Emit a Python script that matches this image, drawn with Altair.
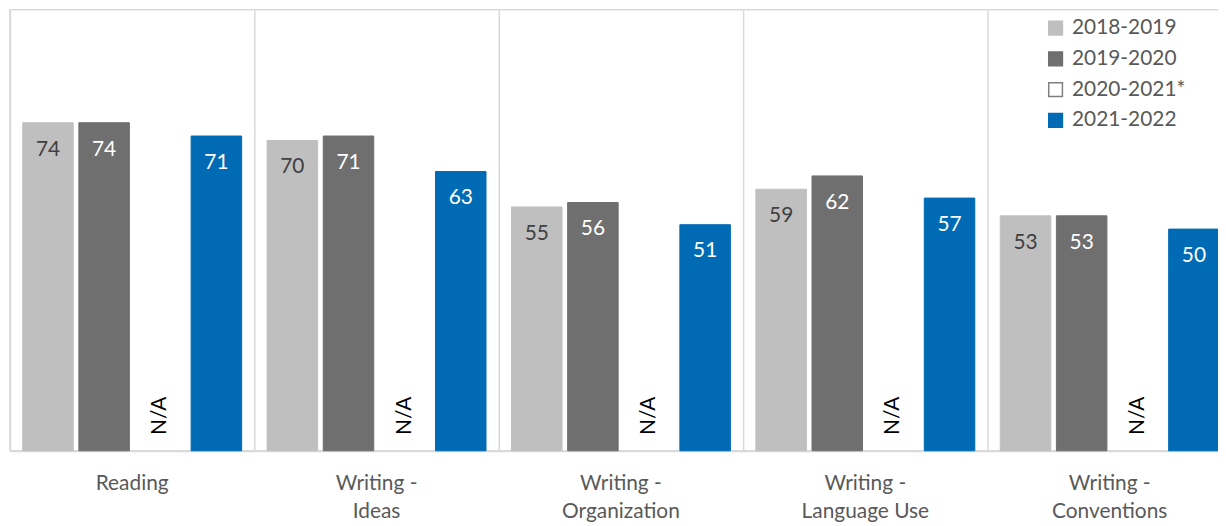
import altair as alt
import pandas as pd

categories = ["Reading", "Writing -\nIdeas", "Writing -\nOrganization",
              "Writing -\nLanguage Use", "Writing -\nConventions"]
years = ["2018-2019", "2019-2020", "2020-2021*", "2021-2022"]
v_2018 = [74, 70, 55, 59, 53]
v_2019 = [74, 71, 56, 62, 53]
v_2021 = [71, 63, 51, 57, 50]

rows = []
for i, c in enumerate(categories):
    rows.append({"cat": c, "year": years[0], "value": v_2018[i]})
    rows.append({"cat": c, "year": years[1], "value": v_2019[i]})
    rows.append({"cat": c, "year": years[3], "value": v_2021[i]})
df = pd.DataFrame(rows)
na_df = pd.DataFrame({"cat": categories, "year": [years[2]] * len(categories),
                      "value": [0] * len(categories), "txt": ["N/A"] * len(categories)})

FONT = "Lato"
fill_range = ["#bfbfbf", "#6f6f6f", "#ffffff", "#006bb5"]
stroke_range = ["#bfbfbf", "#6f6f6f", "#7f7f7f", "#006bb5"]
text_range = ["#404040", "#ffffff", "#000000", "#ffffff"]

x_enc = alt.X("cat:N", sort=categories, title=None,
              scale=alt.Scale(paddingInner=0, paddingOuter=0),
              axis=alt.Axis(labelExpr="split(datum.label, '\\n')", labelFontSize=21,
                            labelColor="#595959", labelFont=FONT, labelLineHeight=28,
                            labelPadding=22, ticks=False, tickSize=0, labelAngle=0,
                            grid=True, bandPosition=0, gridColor="#d9d9d9", gridWidth=1.5,
                            domainColor="#d9d9d9", domainWidth=2))
xo_enc = alt.XOffset("year:N", scale=alt.Scale(domain=years, paddingInner=0.1, paddingOuter=0.227))
y_scale = alt.Scale(domain=[0, 99.5], nice=False)

bars = alt.Chart(df).mark_bar(strokeWidth=1).encode(
    x=x_enc,
    xOffset=xo_enc,
    y=alt.Y("value:Q", scale=y_scale, axis=None),
    fill=alt.Fill("year:N", scale=alt.Scale(domain=years, range=fill_range),
                  legend=alt.Legend(title=None, orient="none", legendX=1042, legendY=8,
                                    symbolType="square", symbolSize=190, symbolStrokeWidth=1.5,
                                    labelFontSize=21, labelFont=FONT, labelColor="#595959",
                                    rowPadding=9, labelOffset=6)),
    stroke=alt.Stroke("year:N", scale=alt.Scale(domain=years, range=stroke_range)),
)

labels = alt.Chart(df).mark_text(fontSize=21, font=FONT, baseline="middle", dy=27).encode(
    x=alt.X("cat:N", sort=categories),
    xOffset=alt.XOffset("year:N"),
    y=alt.Y("value:Q"),
    text=alt.Text("value:Q"),
    color=alt.Color("year:N", scale=alt.Scale(domain=years, range=text_range), legend=None),
)

na = alt.Chart(na_df).mark_text(fontSize=21, font=FONT, angle=270, align="left",
                                 baseline="middle", dx=16, color="#000000").encode(
    x=alt.X("cat:N", sort=categories),
    xOffset=alt.XOffset("year:N"),
    y=alt.Y("value:Q"),
    text="txt:N",
)

chart = alt.layer(bars, labels, na).resolve_scale(color="independent").properties(
    width=1230, height=444, autosize="none",
    padding={"left": 2, "top": 0, "right": -14, "bottom": 70},
).configure_view(stroke="#d9d9d9", strokeWidth=1.5)

chart.save("out.html", embed_options={"renderer": "svg", "actions": False})
